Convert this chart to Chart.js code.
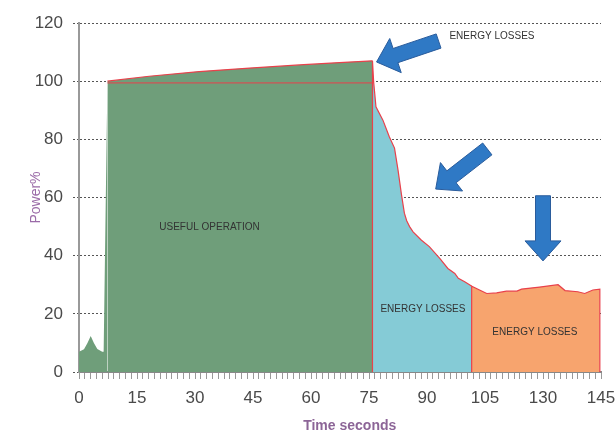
<!DOCTYPE html>
<html>
<head>
<meta charset="utf-8">
<title>Power vs time</title>
<script src="https://cdn.jsdelivr.net/npm/chart.js@4/dist/chart.umd.min.js"></script>
<style>
	html, body { margin: 0; padding: 0; background: #fff; }
	#wrap { width: 616px; height: 435px; position: relative; }
</style>
</head>
<body>
<div id="wrap"><canvas id="powerChart"></canvas></div>
<script>
// tick labels (one every 10 minor ticks)
const timeLabels = ['0', '15', '30', '45', '60', '75', '90', '105', '130', '145'];

// series, x in minor tick steps along the time axis, y in Power%
const usefulX = [0, 0.86, 1.44, 2.02, 2.59, 3.16, 4.0, 4.25, 4.9, 12.1, 20.7, 29.4, 38.0, 44.9, 50.6];
const usefulY = [7.0, 7.8, 9.9, 12.4, 9.9, 7.9, 7.0, 7.0, 100, 101.7, 103.3, 104.5, 105.6, 106.4, 107.0];

const dropX = [50.6, 50.6, 50.8, 51.2, 52.4, 53.5, 54.4, 55.0, 55.6, 56.1, 56.5, 57.0, 57.6, 59.0, 60.4, 62.2, 63.6, 64.8, 65.4, 66.5, 67.4, 67.7];
const dropY = [0, 107.0, 99.8, 91.2, 86.6, 80.9, 77.0, 69.5, 61.0, 54.6, 52.0, 50.0, 48.2, 45.4, 43.1, 39.1, 35.6, 33.9, 32.2, 31.0, 29.9, 29.5];

const tailX = [67.7, 67.7, 70.3, 72.0, 73.7, 75.5, 76.3, 79.4, 82.6, 83.8, 86.0, 87.2, 88.6, 89.8, 89.8];
const tailY = [0, 29.5, 27.0, 27.2, 27.8, 27.8, 28.5, 29.2, 30.0, 28.0, 27.6, 27.0, 28.2, 28.5, 0];

const nominalX = [4.9, 50.6];
const nominalY = [99.4, 99.4];

// annotations
const noteText = ['USEFUL OPERATION', 'ENERGY LOSSES', 'ENERGY LOSSES', 'ENERGY LOSSES'];
const noteX = [22.5, 59.3, 78.6, 71.2];
const noteY = [49.9, 21.6, 13.6, 115.5];

const arrowTip = [[51.3, 106.6], [61.5, 62.9], [80.0, 38.2]];
const arrowTail = [[62.0, 113.8], [70.4, 76.7], [80.0, 60.6]];

const red = '#e8414b';
const green = '#6f9e7a';
const teal = '#85cbd6';
const orange = '#f7a46e';

function toPoints(xs, ys) {
	return xs.map((x, i) => ({ x: x, y: ys[i] }));
}

Chart.defaults.font.family = "'Liberation Sans', Arial, sans-serif";

// arrows and texts on top of the areas
const notesPlugin = {
	id: 'notes',
	afterDatasetsDraw(chart) {
		const ctx = chart.ctx;
		const xs = chart.scales.x, ys = chart.scales.y;

		arrowTip.forEach((tip, i) => {
			const tx = xs.getPixelForValue(tip[0]), ty = ys.getPixelForValue(tip[1]);
			const cx = xs.getPixelForValue(arrowTail[i][0]), cy = ys.getPixelForValue(arrowTail[i][1]);
			const len = Math.hypot(tx - cx, ty - cy);
			const ux = (tx - cx) / len, uy = (ty - cy) / len;
			const nx = -uy, ny = ux;
			const headLen = 20, headHalf = 18, shaftHalf = 7.5;
			const bx = tx - ux * headLen, by = ty - uy * headLen;
			ctx.save();
			ctx.beginPath();
			ctx.moveTo(cx + nx * shaftHalf, cy + ny * shaftHalf);
			ctx.lineTo(bx + nx * shaftHalf, by + ny * shaftHalf);
			ctx.lineTo(bx + nx * headHalf, by + ny * headHalf);
			ctx.lineTo(tx, ty);
			ctx.lineTo(bx - nx * headHalf, by - ny * headHalf);
			ctx.lineTo(bx - nx * shaftHalf, by - ny * shaftHalf);
			ctx.lineTo(cx - nx * shaftHalf, cy - ny * shaftHalf);
			ctx.closePath();
			ctx.fillStyle = '#2f79c5';
			ctx.fill();
			ctx.strokeStyle = '#2a5c9c';
			ctx.lineWidth = 1;
			ctx.stroke();
			ctx.restore();
		});

		ctx.save();
		ctx.font = "10px 'Liberation Sans', Arial, sans-serif";
		ctx.fillStyle = '#333';
		ctx.textAlign = 'center';
		ctx.textBaseline = 'middle';
		noteText.forEach((t, i) => {
			ctx.fillText(t, xs.getPixelForValue(noteX[i]), ys.getPixelForValue(noteY[i]));
		});
		ctx.restore();
	}
};

new Chart(document.getElementById('powerChart'), {
	type: 'line',
	data: {
		datasets: [
			{
				data: toPoints(nominalX, nominalY),
				borderColor: red,
				borderWidth: 1,
				fill: false,
			},
			{
				data: toPoints(tailX, tailY),
				borderColor: red,
				borderWidth: 1.2,
				backgroundColor: orange,
				fill: 'origin',
			},
			{
				data: toPoints(dropX, dropY),
				borderColor: red,
				borderWidth: 1.2,
				backgroundColor: teal,
				fill: 'origin',
			},
			{
				data: toPoints(usefulX, usefulY),
				borderColor: red,
				borderWidth: 1.2,
				backgroundColor: green,
				fill: 'origin',
				segment: {
					// no outline on the start-up part
					borderColor: c => (c.p0.parsed.y > 90 && c.p1.parsed.y > 90) ? red : 'rgba(0,0,0,0)'
				}
			}
		]
	},
	options: {
		responsive: true,
		maintainAspectRatio: false,
		animation: false,
		elements: {
			point: { radius: 0 },
			line: { tension: 0 }
		},
		layout: {
			padding: { left: 0, right: 15, top: 23, bottom: 0 }
		},
		plugins: {
			legend: { display: false },
			tooltip: { enabled: false }
		},
		scales: {
			x: {
				type: 'linear',
				min: 0,
				max: 90,
				afterFit: s => { s.height = 63; s.paddingRight = 15; s.paddingLeft = 0; },
				ticks: {
					stepSize: 1,
					autoSkip: false,
					maxRotation: 0,
					minRotation: 0,
					padding: 9,
					color: '#4a4a4a',
					font: { size: 17 },
					callback: v => (v % 10 === 0 ? timeLabels[v / 10] : '')
				},
				grid: {
					display: true,
					drawOnChartArea: false,
					drawTicks: true,
					tickLength: 7,
					tickColor: '#999',
					tickWidth: 1
				},
				border: { display: true, color: '#888', width: 2 },
				title: {
					display: true,
					text: '     Time seconds',
					color: '#8c6597',
					font: { size: 14, weight: 'bold' },
					padding: { top: 0, bottom: 0 }
				}
			},
			y: {
				min: 0,
				max: 120,
				afterFit: s => { s.width = 79; },
				ticks: {
					stepSize: 20,
					padding: 10,
					color: '#4a4a4a',
					font: { size: 17 }
				},
				grid: {
					color: '#555',
					tickColor: '#555',
					tickWidth: 1,
					tickLength: 6,
					tickBorderDash: [2, 2]
				},
				border: { display: true, color: '#999', width: 2, dash: [2, 2] },
				title: {
					display: true,
					text: 'Power%',
					color: '#9b6ba8',
					font: { size: 14 },
					padding: { top: 27.6, bottom: 0 }
				}
			}
		}
	},
	plugins: [notesPlugin]
});
</script>
</body>
</html>
